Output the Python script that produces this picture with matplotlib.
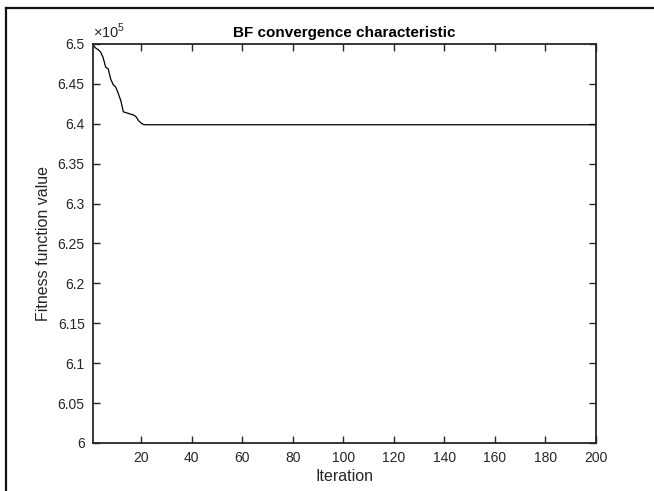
import numpy as np
import matplotlib.pyplot as plt
from matplotlib.lines import Line2D
from matplotlib.ticker import FuncFormatter

plt.rcParams['font.family'] = ['Liberation Sans', 'DejaVu Sans']
plt.rcParams['mathtext.fontset'] = 'custom'
plt.rcParams['mathtext.rm'] = 'Liberation Sans'

# fitness values (first 21 iterations, then flat)
early = [649900, 649500, 649300, 649000, 648300, 647100, 646900, 645600,
         644900, 644600, 643800, 642900, 641500, 641400, 641300, 641200,
         641100, 640900, 640400, 640100, 639900]
plateau = 639880
fitness = early + [plateau] * (200 - len(early))
iterations = np.arange(1, len(fitness) + 1)

xticks = [20, 40, 60, 80, 100, 120, 140, 160, 180, 200]
yticks = [600000, 605000, 610000, 615000, 620000, 625000,
          630000, 635000, 640000, 645000, 650000]

fig = plt.figure(figsize=(6.54, 4.91), dpi=100)
ax = fig.add_axes([0.1422, 0.0978, 0.7691, 0.8126])

ax.plot(iterations, fitness, color='black', linewidth=0.9)

ax.set_xlim(1, 200)
ax.set_ylim(600000, 650000)
ax.set_xticks(xticks)
ax.set_yticks(yticks)
ax.yaxis.set_major_formatter(FuncFormatter(lambda v, p: f'{v/1e5:g}'))

dark = '#262626'
ax.tick_params(direction='in', top=True, right=True, length=5, width=1,
               colors=dark, labelsize=10, pad=6)
for s in ax.spines.values():
    s.set_linewidth(1.3)
    s.set_color(dark)

ax.set_title('BF convergence characteristic', fontsize=11, fontweight='bold', pad=5)
ax.set_xlabel('Iteration', fontsize=11.5, color=dark, labelpad=3)
ax.set_ylabel('Fitness function value', fontsize=11.5, color=dark, labelpad=5)
ax.text(0.0, 1.008, r'$\times10^{5}$', transform=ax.transAxes, fontsize=10.5,
        color=dark, ha='left', va='bottom')

# outer frame (left and top edges visible in the original)
fig.add_artist(Line2D([6/654, 6/654], [0, 1 - 8/491], transform=fig.transFigure,
                      color='#111111', linewidth=1.6))
fig.add_artist(Line2D([6/654, 1], [1 - 8/491, 1 - 8/491], transform=fig.transFigure,
                      color='#111111', linewidth=1.6))

fig.savefig('out.png', dpi=100)
